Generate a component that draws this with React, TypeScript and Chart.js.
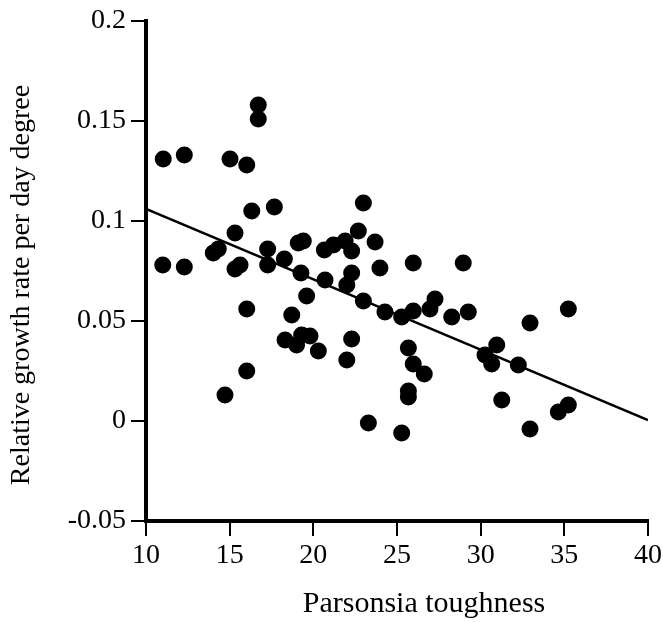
import React, { useEffect, useRef } from "react";
import { Chart, registerables } from "chart.js";

Chart.register(...registerables);

const toughness = [
  11.03, 11.0, 12.29, 12.29, 14.02, 14.32, 14.72, 15.02, 15.32, 15.32,
  15.62, 16.02, 16.02, 16.02, 16.32, 16.71, 16.71, 17.27, 17.27, 17.67,
  18.27, 18.31, 18.71, 19.0, 19.1, 19.4, 19.26, 19.3, 19.6, 19.8,
  20.3, 20.7, 20.66, 21.2, 21.9, 22.0, 22.0, 22.29, 22.29, 22.29,
  22.69, 22.99, 22.99, 23.29, 23.69, 23.98, 24.28, 25.28, 25.28, 25.68,
  25.68, 25.68, 25.97, 25.97, 25.97, 26.63, 26.97, 27.27, 28.27, 28.96,
  29.26, 30.26, 30.66, 30.96, 31.26, 32.25, 32.95, 32.95, 34.64, 35.24,
  35.24,
];

const growthRate = [
  0.131, 0.078, 0.133, 0.077, 0.084, 0.086, 0.013, 0.131, 0.094, 0.076,
  0.078, 0.128, 0.056, 0.025, 0.105, 0.158, 0.151, 0.086, 0.078, 0.107,
  0.081, 0.0405, 0.053, 0.038, 0.089, 0.09, 0.074, 0.043, 0.0625, 0.0425,
  0.035, 0.0705, 0.0855, 0.088, 0.09, 0.068, 0.0305, 0.085, 0.074, 0.041,
  0.095, 0.109, 0.06, -0.001, 0.0895, 0.0765, 0.0545, 0.052, -0.006, 0.0365,
  0.015, 0.012, 0.0285, 0.055, 0.079, 0.0235, 0.056, 0.061, 0.052, 0.079,
  0.0545, 0.033, 0.0285, 0.038, 0.0105, 0.028, 0.049, -0.004, 0.0045, 0.008,
  0.056,
];

const fitX = [10, 40];
const fitY = [0.106, 0.0005];

const xTicks = [10, 15, 20, 25, 30, 35, 40];
const xTickLabels = ["10", "15", "20", "25", "30", "35", "40"];
const yTicks = [-0.05, 0, 0.05, 0.1, 0.15, 0.2];
const yTickLabels = ["-0.05", "0", "0.05", "0.1", "0.15", "0.2"];

const xTitle = "Parsonsia toughness";
const yTitle = "Relative growth rate per day degree";

const FONT = '"Liberation Serif", "Times New Roman", serif';

const titlePlugin = {
  id: "axisTitlesCustom",
  afterDraw(chart: any) {
    const ctx = chart.ctx;
    ctx.save();
    ctx.fillStyle = "#000";
    ctx.textAlign = "center";
    ctx.textBaseline = "middle";
    ctx.font = `30px ${FONT}`;
    ctx.fillText(xTitle, 424, 604);
    ctx.translate(22, 285);
    ctx.rotate(-Math.PI / 2);
    ctx.font = `28px ${FONT}`;
    ctx.fillText(yTitle, 0, 0);
    ctx.restore();
  },
};

export default function App() {
  const ref = useRef<HTMLCanvasElement | null>(null);

  useEffect(() => {
    if (!ref.current) return;
    const scatterData = toughness.map((x, i) => ({ x, y: growthRate[i] }));
    const lineData = fitX.map((x, i) => ({ x, y: fitY[i] }));

    const chart = new Chart(ref.current, {
      type: "scatter",
      data: {
        datasets: [
          {
            type: "scatter",
            data: scatterData,
            pointRadius: 8.5,
            pointHoverRadius: 8.5,
            pointBackgroundColor: "#000",
            pointBorderWidth: 0,
            borderColor: "#000",
            backgroundColor: "#000",
            clip: false,
          } as any,
          {
            type: "line",
            data: lineData,
            borderColor: "#000",
            borderWidth: 2.5,
            pointRadius: 0,
            fill: false,
            tension: 0,
          } as any,
        ],
      },
      options: {
        responsive: false,
        animation: false,
        events: [],
        layout: { padding: { top: 21, right: 15, left: 0, bottom: 0 } },
        plugins: {
          legend: { display: false },
          tooltip: { enabled: false },
          title: { display: false },
        },
        scales: {
          x: {
            type: "linear",
            min: 10,
            max: 40,
            afterBuildTicks: (scale: any) => {
              scale.ticks = xTicks.map((v) => ({ value: v }));
            },
            afterFit: (scale: any) => {
              scale.height = 101;
              scale.paddingLeft = 0;
              scale.paddingRight = 0;
            },
            ticks: {
              color: "#000",
              font: { family: FONT, size: 28 },
              padding: 3,
              maxRotation: 0,
              autoSkip: false,
              callback: (_v: any, i: number) => xTickLabels[i],
            },
            grid: {
              drawOnChartArea: false,
              drawTicks: true,
              tickLength: 15,
              color: "#000",
              lineWidth: 2,
            },
            border: { display: true, color: "#000", width: 4 },
          },
          y: {
            type: "linear",
            min: -0.05,
            max: 0.2,
            afterBuildTicks: (scale: any) => {
              scale.ticks = yTicks.map((v) => ({ value: v }));
            },
            afterFit: (scale: any) => {
              scale.width = 146;
              scale.paddingTop = 0;
              scale.paddingBottom = 0;
            },
            ticks: {
              color: "#000",
              font: { family: FONT, size: 28 },
              padding: 5,
              autoSkip: false,
              callback: (_v: any, i: number) => yTickLabels[i],
            },
            grid: {
              drawOnChartArea: false,
              drawTicks: true,
              tickLength: 15,
              color: "#000",
              lineWidth: 2,
            },
            border: { display: true, color: "#000", width: 4 },
          },
        },
      },
      plugins: [titlePlugin],
    });

    return () => chart.destroy();
  }, []);

  return (
    <div style={{ position: "absolute", left: 0, top: 0, width: 663, height: 622 }}>
      <canvas ref={ref} width={663} height={622} style={{ display: "block" }} />
    </div>
  );
}
